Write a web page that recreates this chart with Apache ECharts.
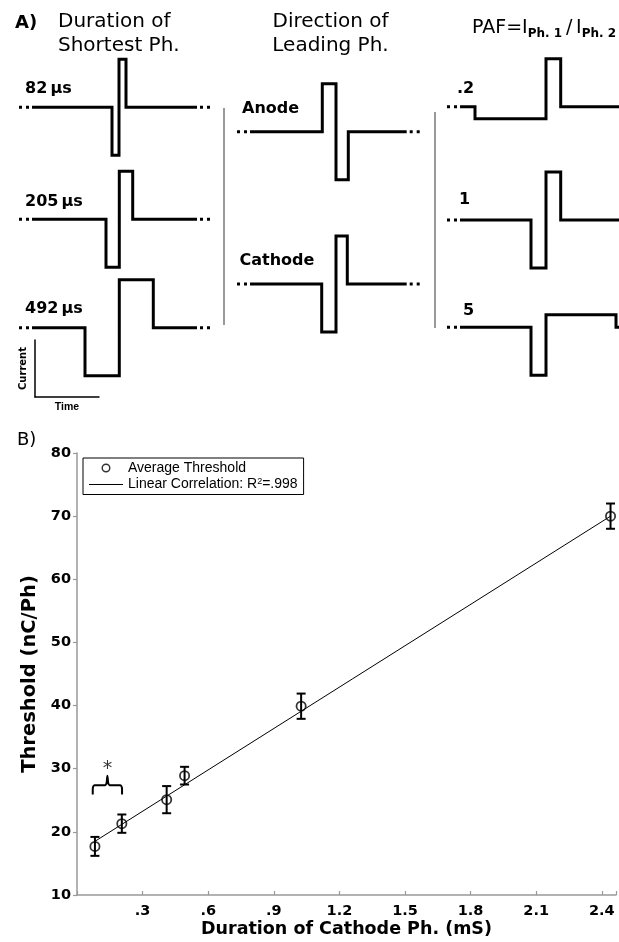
<!DOCTYPE html>
<html><head><meta charset="utf-8">
<script src="https://cdn.jsdelivr.net/npm/echarts@6/dist/echarts.min.js"></script>
<style>html,body{margin:0;padding:0;background:#fff}#c{width:619px;height:942px}</style>
</head><body><div id="c"></div><script>
// ---------- Panel A data (schematic waveforms, time in a.u., current relative) ----------
const durLabels = ['82\u2009\u00b5s', '205\u2009\u00b5s', '492\u2009\u00b5s'];
const durTime = [
  [0, 80, 80, 87, 87, 94, 94, 165],
  [0, 74, 74, 87.3, 87.3, 100.7, 100.7, 165],
  [0, 53, 53, 87.3, 87.3, 121.3, 121.3, 165]
];
const durCurrent = [
  [0, 0, -1, -1, 1, 1, 0, 0],
  [0, 0, -1, -1, 1, 1, 0, 0],
  [0, 0, -1, -1, 1, 1, 0, 0]
];
const dirLabels = ['Anode', 'Cathode'];
const dirTime = [
  [0, 72.3, 72.3, 86, 86, 98.3, 98.3, 156.7],
  [0, 71.7, 71.7, 86, 86, 97.3, 97.3, 156.7]
];
const dirCurrent = [
  [0, 0, 1, 1, -1, -1, 0, 0],
  [0, 0, -1, -1, 1, 1, 0, 0]
];
const pafLabels = ['.2', '1', '5'];
const pafTime = [
  [0, 15, 15, 86, 86, 100.7, 100.7, 159],
  [0, 71, 71, 86, 86, 100.7, 100.7, 159],
  [0, 71, 71, 86, 86, 156, 156, 159]
];
const pafCurrent = [
  [0, 0, -0.25, -0.25, 1, 1, 0, 0],
  [0, 0, -1, -1, 1, 1, 0, 0],
  [0, 0, -1, -1, 0.26, 0.26, 0, 0]
];

// ---------- Panel B data ----------
const durationMs = [0.082, 0.205, 0.41, 0.492, 1.025, 2.44];
const thresholdNC = [17.7, 21.3, 25.1, 28.9, 39.9, 70.0];
const thresholdErr = [1.5, 1.45, 2.15, 1.4, 2.0, 2.0];
const fitX = [0.082, 2.44];
const fitY = [18.5, 70.0];
const braceX = [0.072, 0.072, 0.0745, 0.080, 0.128, 0.135, 0.139, 0.143, 0.150, 0.198, 0.2035, 0.206, 0.206];
const braceY = [25.9, 26.8, 27.2, 27.4, 27.4, 27.7, 28.9, 27.7, 27.4, 27.4, 27.2, 26.8, 25.9];
const starPoint = [0.139, 29.9];
const legendNames = ['Average Threshold', 'Linear Correlation'];
const r2Text = '.998';
const xMin = 0, xMax = 2.465, xStep = 0.3;
const yMin = 10, yMax = 80, yStep = 10;

// ---------- build ----------
const FF = '"DejaVu Sans"';
const grids = [], xAxes = [], yAxes = [], series = [], graphicEls = [];

// main grid (index 0)
grids.push({left: 77, top: 453, width: 542, height: 442});
xAxes.push({
  gridIndex: 0, type: 'value', min: xMin, max: xMax, interval: xStep,
  axisLine: {show: true, onZero: false, lineStyle: {color: '#999', width: 1.5}},
  axisTick: {show: true, inside: true, length: 4, lineStyle: {color: '#999', width: 1.2}},
  splitLine: {show: false},
  axisLabel: {
    color: '#000', fontFamily: 'DejaVu Sans', fontWeight: 'bold', fontSize: 14.5, margin: 9,
    formatter: v => {
      const r = Math.round(v / xStep);
      if (r <= 0 || Math.abs(v - r * xStep) > 1e-6) return '';
      return (r * xStep).toFixed(1).replace(/^0\./, '.');
    }
  },
  name: 'Duration of Cathode Ph. (mS)', nameLocation: 'middle', nameGap: 25,
  nameTextStyle: {color: '#000', fontFamily: 'DejaVu Sans', fontWeight: 'bold', fontSize: 17.5}
});
yAxes.push({
  gridIndex: 0, type: 'value', min: yMin, max: yMax, interval: yStep,
  axisLine: {show: true, onZero: false, lineStyle: {color: '#999', width: 1.5}},
  axisTick: {show: true, inside: false, length: 4, lineStyle: {color: '#999', width: 1.2}},
  splitLine: {show: false},
  axisLabel: {color: '#000', fontFamily: 'DejaVu Sans', fontWeight: 'bold', fontSize: 14.5, margin: 6},
  name: 'Threshold (nC/Ph)', nameLocation: 'middle', nameGap: 28,
  nameTextStyle: {color: '#000', fontFamily: 'DejaVu Sans', fontWeight: 'bold', fontSize: 19.5}
});

const ringPath = 'path://M0,-10A10,10,0,1,1,0,10A10,10,0,1,1,0,-10ZM0,-6.8A6.8,6.8,0,1,0,0,6.8A6.8,6.8,0,1,0,0,-6.8Z';

series.push({
  type: 'line', name: legendNames[1], xAxisIndex: 0, yAxisIndex: 0,
  data: fitX.map((x, i) => [x, fitY[i]]), symbol: 'none',
  lineStyle: {color: '#000', width: 1}, itemStyle: {color: '#000'}, z: 2, silent: true
});
series.push({
  type: 'custom', name: 'err', xAxisIndex: 0, yAxisIndex: 0,
  data: durationMs.map((x, i) => [x, thresholdNC[i], thresholdErr[i]]),
  encode: {x: 0, y: 1}, z: 3, silent: true,
  renderItem: (params, api) => {
    const x = api.value(0), y = api.value(1), e = api.value(2);
    const top = api.coord([x, y + e]), bot = api.coord([x, y - e]);
    const w = 4.5, st = {stroke: '#000', lineWidth: 2};
    return {type: 'group', children: [
      {type: 'line', shape: {x1: top[0], y1: top[1], x2: bot[0], y2: bot[1]}, style: st},
      {type: 'line', shape: {x1: top[0] - w, y1: top[1], x2: top[0] + w, y2: top[1]}, style: st},
      {type: 'line', shape: {x1: bot[0] - w, y1: bot[1], x2: bot[0] + w, y2: bot[1]}, style: st}
    ]};
  }
});
series.push({
  type: 'scatter', name: legendNames[0], xAxisIndex: 0, yAxisIndex: 0,
  data: durationMs.map((x, i) => [x, thresholdNC[i]]),
  symbol: ringPath, symbolSize: 11, itemStyle: {color: '#000'}, z: 4, silent: true
});
series.push({
  type: 'line', name: 'brace', xAxisIndex: 0, yAxisIndex: 0,
  data: braceX.map((x, i) => [x, braceY[i]]), symbol: 'none', smooth: 0.2,
  lineStyle: {color: '#000', width: 2}, z: 3, silent: true
});
series.push({
  type: 'scatter', name: 'star', xAxisIndex: 0, yAxisIndex: 0,
  data: [starPoint], symbol: 'circle', symbolSize: 1, itemStyle: {color: 'rgba(0,0,0,0)'},
  label: {show: true, position: 'inside', formatter: '*', color: '#000', fontFamily: 'DejaVu Sans', fontSize: 19},
  silent: true
});

// waveforms
function addWave(time, current, startX, baseline, span, rightDots) {
  const gi = grids.length;
  const rp = rightDots ? 13 : 0;
  grids.push({left: startX - 13, top: baseline - 48, width: span + 13 + rp, height: 96});
  xAxes.push({gridIndex: gi, type: 'value', min: -13, max: span + rp, show: false});
  yAxes.push({gridIndex: gi, type: 'value', min: -1, max: 1, show: false});
  const ls = {color: '#000', width: 3, cap: 'butt', join: 'miter'};
  series.push({type: 'line', xAxisIndex: gi, yAxisIndex: gi, clip: false, symbol: 'none', silent: true,
    data: time.map((t, k) => [t, current[k]]), lineStyle: ls});
  series.push({type: 'line', xAxisIndex: gi, yAxisIndex: gi, clip: false, symbol: 'none', silent: true,
    data: [[-13, 0], [-3, 0]], lineStyle: Object.assign({}, ls, {type: [3, 4]})});
  if (rightDots) {
    series.push({type: 'line', xAxisIndex: gi, yAxisIndex: gi, clip: false, symbol: 'none', silent: true,
      data: [[span + 3, 0], [span + 13, 0]], lineStyle: Object.assign({}, ls, {type: [3, 4]})});
  }
}
const labFont = `bold 16px ${FF}`;
function addLabel(text, x, y) {
  graphicEls.push({type: 'text', x: x, y: y, silent: true,
    style: {text: text, font: labFont, fill: '#000', textVerticalAlign: 'middle'}});
}
const col1Base = [107.3, 219.3, 327.7], col1Dy = [-18.8, -17.5, -18.5];
durTime.forEach((t, i) => { addWave(t, durCurrent[i], 32, col1Base[i], 165, true); addLabel(durLabels[i], 25, col1Base[i] + col1Dy[i]); });
const col2Base = [131.7, 284], col2X = [242, 239.5];
dirTime.forEach((t, i) => { addWave(t, dirCurrent[i], 250, col2Base[i], 156.7, true); addLabel(dirLabels[i], col2X[i], col2Base[i] - 23.3); });
const col3Base = [106.7, 220, 327.3], col3X = [457, 459, 463], col3Dy = [-18, -19.7, -16.5];
pafTime.forEach((t, i) => { addWave(t, pafCurrent[i], 460, col3Base[i], 159, false); addLabel(pafLabels[i], col3X[i], col3Base[i] + col3Dy[i]); });

// scale bar (Current / Time)
const sg = grids.length;
grids.push({left: 35, top: 340, width: 64, height: 57});
const barAxis = {show: true, onZero: false, lineStyle: {color: '#000', width: 1.5}};
xAxes.push({gridIndex: sg, type: 'value', min: 0, max: 1, axisLine: barAxis, axisTick: {show: false},
  axisLabel: {show: false}, splitLine: {show: false}, name: 'Time', nameLocation: 'middle', nameGap: 5,
  nameTextStyle: {color: '#000', fontFamily: 'Liberation Sans', fontWeight: 'bold', fontSize: 10.5}});
yAxes.push({gridIndex: sg, type: 'value', min: 0, max: 1, axisLine: barAxis, axisTick: {show: false},
  axisLabel: {show: false}, splitLine: {show: false}, name: 'Current', nameLocation: 'middle', nameGap: 7,
  nameTextStyle: {color: '#000', fontFamily: 'DejaVu Sans', fontWeight: 'bold', fontSize: 10}});

// titles & separators
const titleFont = `20px ${FF}`;
graphicEls.push(
  {type: 'text', x: 15, y: 23.5, style: {text: 'A)', font: `bold 18px ${FF}`, fill: '#000', textVerticalAlign: 'middle'}},
  {type: 'text', x: 58, y: 21.7, style: {text: 'Duration of', font: titleFont, fill: '#000', textVerticalAlign: 'middle'}},
  {type: 'text', x: 58, y: 45.3, style: {text: 'Shortest Ph.', font: titleFont, fill: '#000', textVerticalAlign: 'middle'}},
  {type: 'text', x: 330.5, y: 21.7, style: {text: 'Direction of', font: titleFont, fill: '#000', textAlign: 'center', textVerticalAlign: 'middle'}},
  {type: 'text', x: 330.5, y: 45.3, style: {text: 'Leading Ph.', font: titleFont, fill: '#000', textAlign: 'center', textVerticalAlign: 'middle'}},
  {type: 'text', x: 472, y: 28.5, style: {
    text: '{m|PAF=I}{s|Ph. 1}{m|\u2009/\u2009I}{s|Ph. 2}', textVerticalAlign: 'middle',
    rich: {
      m: {fontFamily: 'DejaVu Sans', fontSize: 19, fill: '#000', lineHeight: 22},
      s: {fontFamily: 'DejaVu Sans', fontWeight: 'bold', fontSize: 12, fill: '#000', lineHeight: 6, verticalAlign: 'bottom'}
    }}},
  {type: 'text', x: 17, y: 440, style: {text: 'B)', font: `18px ${FF}`, fill: '#000', textVerticalAlign: 'middle'}},
  {type: 'line', shape: {x1: 224, y1: 108, x2: 224, y2: 325}, style: {stroke: '#999', lineWidth: 2}},
  {type: 'line', shape: {x1: 435, y1: 112, x2: 435, y2: 328}, style: {stroke: '#999', lineWidth: 2}}
);

const option = {
  animation: false,
  backgroundColor: '#fff',
  grid: grids, xAxis: xAxes, yAxis: yAxes,
  legend: {
    data: [
      {name: legendNames[0]},
      {name: legendNames[1], icon: 'path://M0,0H34V1H0Z'}
    ],
    orient: 'vertical', left: 83, top: 458, selectedMode: false,
    backgroundColor: '#fff', borderColor: '#000', borderWidth: 1, borderRadius: 0,
    padding: [3, 6, 3, 6], itemGap: 2, itemWidth: 34, itemHeight: 9,
    formatter: name => name === legendNames[1]
      ? '{t|Linear Correlation: R}{sup|2}{t|=' + r2Text + '}'
      : '{t|' + name + '}',
    textStyle: {
      color: '#000', fontFamily: 'Liberation Sans', fontSize: 14,
      rich: {
        t: {color: '#000', fontFamily: 'Liberation Sans', fontSize: 14, lineHeight: 15},
        sup: {color: '#000', fontFamily: 'Liberation Sans', fontSize: 9, lineHeight: 8, verticalAlign: 'top'}
      }
    }
  },
  graphic: {elements: graphicEls},
  series: series
};
const chart = echarts.init(document.getElementById('c'), null, {renderer: 'canvas'});
chart.setOption(option);
</script></body></html>
